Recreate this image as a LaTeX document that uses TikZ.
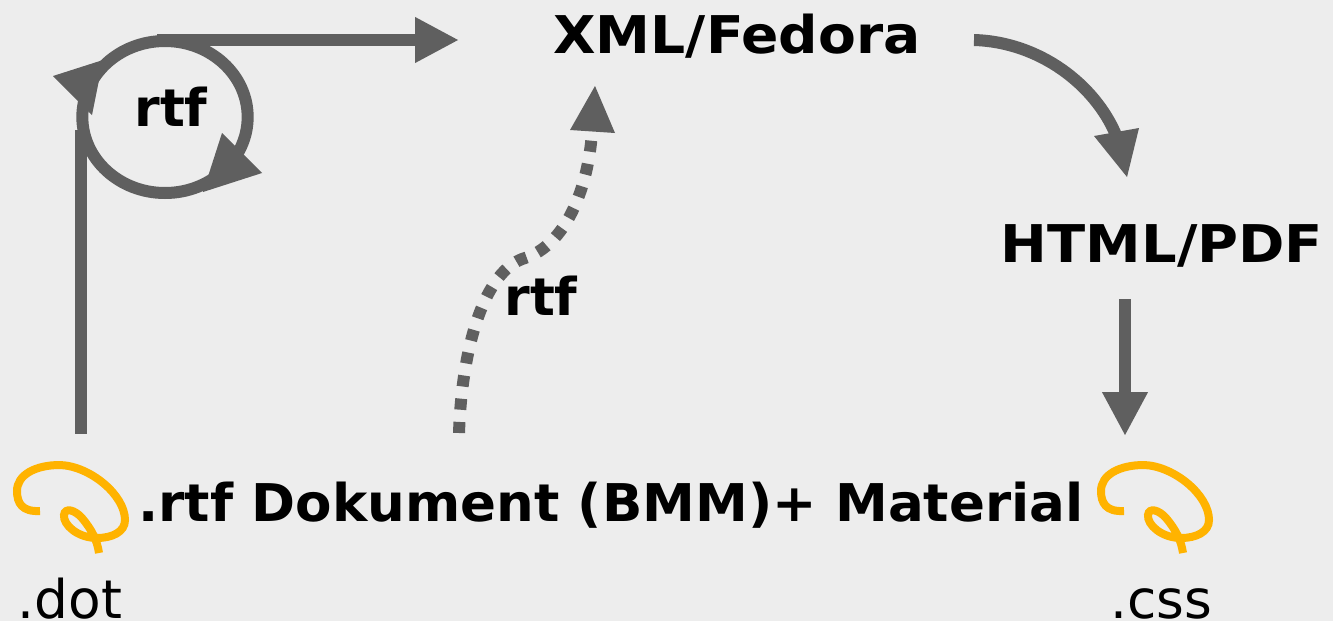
\documentclass[tikz,border=0pt]{standalone}
\usepackage{fontspec}
\setmainfont{DejaVu Sans}
\usetikzlibrary{arrows.meta}
\definecolor{bgGrey}{HTML}{EDEDED}
\definecolor{lineGrey}{HTML}{5F5F5F}
\definecolor{swirlOrange}{HTML}{FFB300}
\newcommand{\widened}[2]{\scalebox{#1}[1]{#2}}
\tikzset{
	label/.style={font=\fontsize{39}{39}\selectfont\bfseries, inner sep=0pt, text=black},
	plain/.style={font=\fontsize{40}{40}\selectfont, inner sep=0pt, text=black},
	flow/.style={draw=lineGrey, line width=9pt, -{Triangle[length=33pt,width=32pt]}},
	head/.style={fill=lineGrey, draw=none},
}
\begin{document}
\begin{tikzpicture}[x=0.75pt,y=-0.75pt]
	\useasboundingbox (0,0) rectangle (1333,621);
	\fill [bgGrey] (0,0) rectangle (1333,621);

	\coordinate (dotUp) at (81,434);
	\coordinate (corner) at (81,130);
	\coordinate (topStart) at (157,40);
	\coordinate (topEnd) at (459,40);
	\coordinate (dotsStart) at (459,433);
	\coordinate (dotsEnd) at (592,132);
	\coordinate (xmlOut) at (974,40);
	\coordinate (xmlEnd) at (1127,177);
	\coordinate (htmlOut) at (1125,299);
	\coordinate (htmlEnd) at (1125,436);
	\coordinate (loopCentre) at (165,117);

	\node [label] (xml) at (737,36) {\widened{1.06}{XML/Fedora}};
	\node [label] (html) at (1162,246) {\widened{1.075}{HTML/PDF}};
	\node [label] (rtfLoop) at (171,107) {rtf};
	\node [label] (rtfDots) at (541,296) {rtf};
	\node [label] (doc) at (611,505) {\widened{1.02}{.rtf Dokument (BMM)+ Material}};
	\node [plain, anchor=base] (dot) at (70,618) {.dot};
	\node [plain, anchor=base] (css) at (1161,618) {.css};

	% edit loop
	\draw [lineGrey, line width=9pt] (corner) -- (dotUp);
	\draw [flow] (topStart) -- (topEnd);
	\draw [lineGrey, line width=9pt] (loopCentre) ellipse [x radius=62pt, y radius=57pt];
	\fill [head] (53,76) -- (103,60) -- (92,115) -- cycle;
	\fill [head] (262,173) -- (222,133) -- (203,192) -- cycle;

	% import
	\draw [lineGrey, line width=9pt, dash pattern=on 8.3pt off 9.2pt] (dotsStart) .. controls (462,345) and (485,270) .. (525,258) .. controls (565,245) and (588,190) .. (dotsEnd);
	\fill [head] (595,86) -- (570,130) -- (615,133) -- cycle;

	% output
	\draw [lineGrey, line width=9pt] (xmlOut) .. controls (1040,42) and (1095,85) .. (1116,135);
	\fill [head] (xmlEnd) -- (1094,136) -- (1139,128) -- cycle;
	\draw [flow] (htmlOut) -- (htmlEnd);

	% swirls
	\foreach \x in {0,1084}{
	\begin{scope}[shift={(\x,0)}]
	\draw [swirlOrange, line width=6pt] (40,511) .. controls (22,512) and (17,503) .. (17,491) .. controls (17,475) and (35,465) .. (60,465) .. controls (90,466) and (125,495) .. (125,520) .. controls (125,532) and (112,538) .. (97,538) .. controls (78,538) and (63,525) .. (64,515) .. controls (65,507) and (75,510) .. (82,518) .. controls (92,530) and (97,540) .. (99,553);
	\end{scope}
	}
\end{tikzpicture}
\end{document}
